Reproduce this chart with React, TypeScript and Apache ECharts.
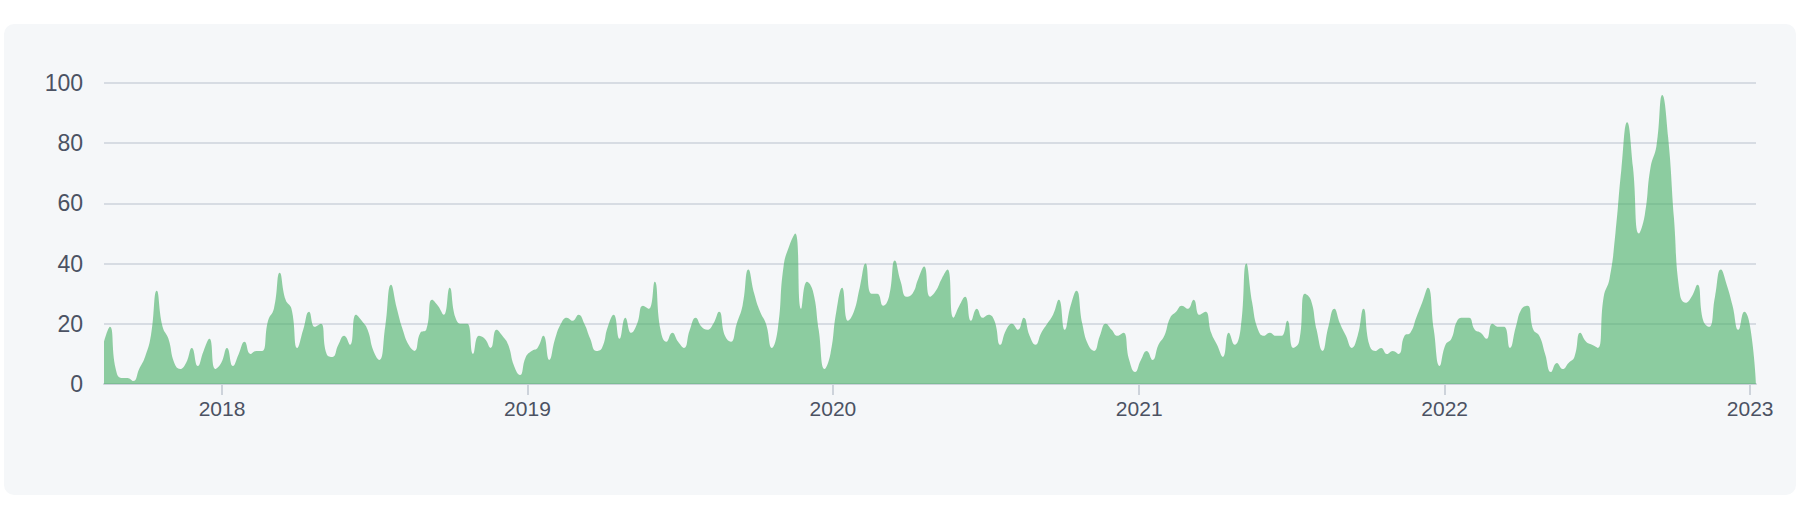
import React, { useEffect, useRef } from "react";
import * as echarts from "echarts";

const START_DATE = "2017-08-13";
const WEEKLY_VALUES = [
  14, 19, 5, 2, 2, 1, 5, 9, 16, 31,
  19, 15, 7, 5, 7, 12, 6, 11, 15, 5,
  7, 12, 6, 10, 14, 10, 11, 11, 21, 25,
  37, 28, 25, 12, 18, 24, 19, 20, 10, 9,
  13, 16, 13, 23, 21, 18, 11, 8, 19, 33,
  25, 18, 13, 11, 17, 18, 28, 26, 23, 32,
  22, 20, 20, 10, 16, 15, 12, 18, 16, 13,
  6, 3, 9, 11, 12, 16, 8, 15, 20, 22,
  21, 23, 20, 15, 11, 12, 19, 23, 15, 22,
  17, 20, 26, 25, 34, 18, 14, 17, 14, 12,
  18, 22, 19, 18, 20, 24, 16, 14, 20, 26,
  38, 30, 24, 20, 12, 18, 39, 46, 50, 25,
  34, 31, 18, 5, 10, 24, 32, 21, 24, 32,
  40, 30, 30, 26, 29, 41, 34, 29, 30, 35,
  39, 29, 31, 35, 38, 22, 26, 29, 21, 25,
  22, 23, 21, 13, 18, 20, 18, 22, 16, 13,
  17, 20, 23, 28, 18, 26, 31, 20, 13, 11,
  16, 20, 18, 16, 17, 8, 4, 8, 11, 8,
  13, 16, 22, 24, 26, 25, 28, 23, 24, 17,
  13, 9, 17, 13, 18, 40, 27, 18, 16, 17,
  16, 16, 21, 12, 14, 30, 28, 18, 11, 19,
  25, 20, 16, 12, 16, 25, 13, 11, 12, 10,
  11, 10, 16, 17, 22, 27, 32, 18, 6, 13,
  15, 21, 22, 22, 18, 17, 15, 20, 19, 19,
  12, 19, 25, 26, 18, 16, 10, 4, 7, 5,
  7, 9, 17, 14, 13, 12, 29, 35, 50, 71,
  87, 72, 50, 56, 72, 79, 96, 82, 55, 30,
  27, 29, 33, 21, 19, 29, 38, 33, 26, 18,
  24, 19, 0,
];
const Y_TICKS = [0, 20, 40, 60, 80, 100];
const YEAR_TICKS = ["2018", "2019", "2020", "2021", "2022", "2023"];

const DAY = 86400000;

function parseDate(s: string): number {
  const [y, m, d] = s.split("-").map(Number);
  return new Date(y, m - 1, d).getTime();
}

export default function App() {
  const ref = useRef<HTMLDivElement>(null);

  useEffect(() => {
    if (!ref.current) return;
    const chart = echarts.init(ref.current, undefined, { renderer: "svg" });
    const start = parseDate(START_DATE);
    const data = WEEKLY_VALUES.map((v, i) => [start + i * 7 * DAY, v]);
    const yearValues = YEAR_TICKS.map((y) => new Date(Number(y), 0, 1).getTime());
    const font = 'Arial, "Liberation Sans", sans-serif';
    const textColor = "#4b5263";
    const lineColor = "#cdd3db";

    chart.setOption({
      animation: false,
      backgroundColor: "transparent",
      grid: { left: 100, right: 40, top: 59, bottom: 111, containLabel: false },
      xAxis: {
        type: "value",
        min: data[0][0],
        max: data[data.length - 1][0],
        axisLine: { show: true, lineStyle: { color: lineColor, width: 2 } },
        axisTick: {
          show: true,
          length: 11,
          lineStyle: { color: lineColor, width: 2 },
          customValues: yearValues,
        },
        axisLabel: {
          customValues: yearValues,
          formatter: (v: number) => String(new Date(v).getFullYear()),
          color: textColor,
          fontSize: 21,
          fontFamily: font,
          margin: 14,
        },
        splitLine: { show: false },
      },
      yAxis: {
        type: "value",
        min: Y_TICKS[0],
        max: Y_TICKS[Y_TICKS.length - 1],
        interval: Y_TICKS[1] - Y_TICKS[0],
        axisLine: { show: false },
        axisTick: { show: false },
        axisLabel: {
          color: textColor,
          fontSize: 23,
          fontFamily: font,
          margin: 21,
        },
        splitLine: { show: true, lineStyle: { color: lineColor, width: 1.5 } },
      },
      series: [
        {
          type: "line",
          data,
          smooth: true,
          symbol: "none",
          lineStyle: { width: 0, opacity: 0 },
          areaStyle: { color: "rgba(70, 175, 100, 0.6)", opacity: 1 },
          z: 2,
        },
      ],
    });
    return () => chart.dispose();
  }, []);

  return (
    <div
      style={{
        position: "fixed",
        left: 0,
        top: 0,
        width: 1805,
        height: 513,
        background: "#ffffff",
      }}
    >
      <div
        style={{
          position: "absolute",
          left: 4,
          top: 24,
          width: 1792,
          height: 471,
          background: "#f5f7f9",
          borderRadius: 10,
        }}
      >
        <div ref={ref} style={{ width: 1792, height: 471 }} />
      </div>
    </div>
  );
}
